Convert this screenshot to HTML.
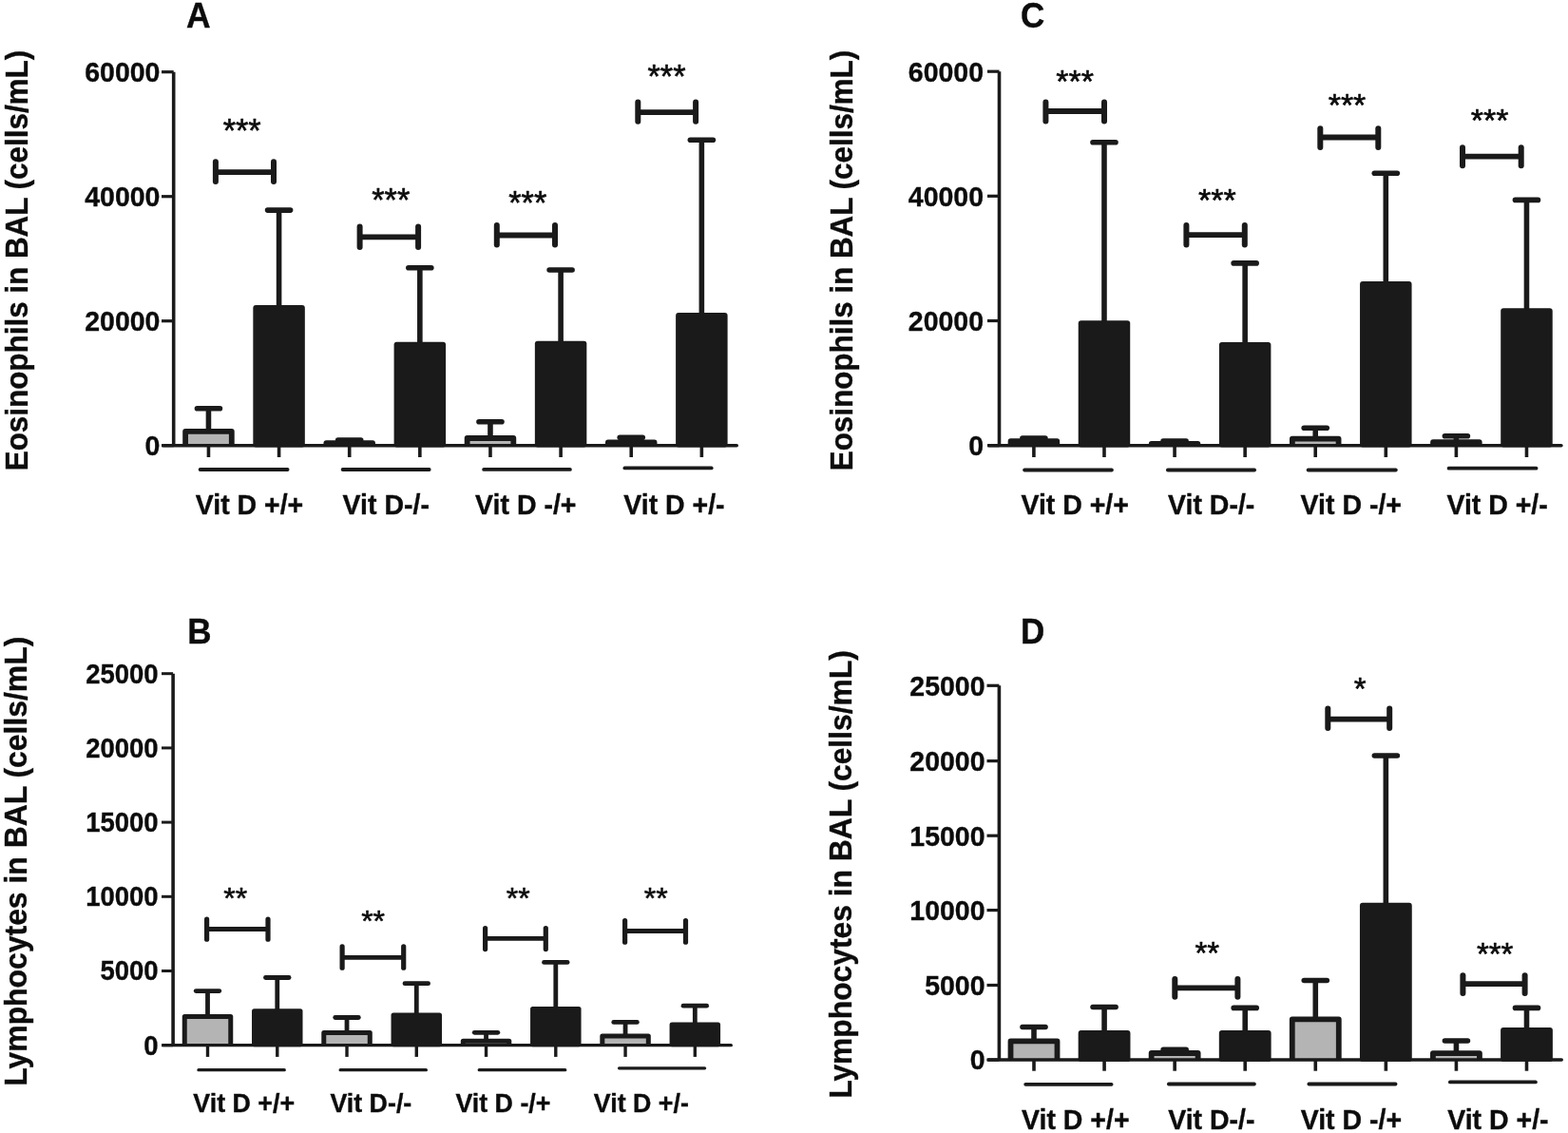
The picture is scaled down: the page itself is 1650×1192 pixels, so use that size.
<!DOCTYPE html>
<html><head><meta charset="utf-8"><title>Figure</title>
<style>html,body{margin:0;padding:0;background:#fff;} svg{display:block;filter:blur(0.35px);}</style></head>
<body>
<svg width="1650" height="1192" viewBox="0 0 1650 1192">
<rect width="1650" height="1192" fill="#fff"/>
<g stroke="#1a1a1a" fill="#1a1a1a" font-family='"Liberation Sans", Arial, sans-serif' font-weight="bold">
<line x1="182.70" y1="75.70" x2="182.70" y2="468.70" stroke-width="3.6" stroke-linecap="butt"/>
<line x1="170.00" y1="75.70" x2="182.70" y2="75.70" stroke-width="3.2" stroke-linecap="butt"/>
<text fill="#0c0c0c" stroke="#0c0c0c" stroke-width="0.35" transform="translate(168.44,86.02) scale(1,1.05)" font-size="28.5" text-anchor="end">60000</text>
<line x1="170.00" y1="206.70" x2="182.70" y2="206.70" stroke-width="3.2" stroke-linecap="butt"/>
<text fill="#0c0c0c" stroke="#0c0c0c" stroke-width="0.35" transform="translate(168.44,217.02) scale(1,1.05)" font-size="28.5" text-anchor="end">40000</text>
<line x1="170.00" y1="337.70" x2="182.70" y2="337.70" stroke-width="3.2" stroke-linecap="butt"/>
<text fill="#0c0c0c" stroke="#0c0c0c" stroke-width="0.35" transform="translate(168.44,348.02) scale(1,1.05)" font-size="28.5" text-anchor="end">20000</text>
<line x1="170.00" y1="468.70" x2="182.70" y2="468.70" stroke-width="3.2" stroke-linecap="butt"/>
<text fill="#0c0c0c" stroke="#0c0c0c" stroke-width="0.35" transform="translate(168.44,479.02) scale(1,1.05)" font-size="28.5" text-anchor="end">0</text>
<line x1="219.45" y1="468.70" x2="219.45" y2="481.00" stroke-width="3.6" stroke-linecap="butt"/>
<line x1="293.58" y1="468.70" x2="293.58" y2="481.00" stroke-width="3.6" stroke-linecap="butt"/>
<line x1="367.71" y1="468.70" x2="367.71" y2="481.00" stroke-width="3.6" stroke-linecap="butt"/>
<line x1="441.84" y1="468.70" x2="441.84" y2="481.00" stroke-width="3.6" stroke-linecap="butt"/>
<line x1="515.97" y1="468.70" x2="515.97" y2="481.00" stroke-width="3.6" stroke-linecap="butt"/>
<line x1="590.10" y1="468.70" x2="590.10" y2="481.00" stroke-width="3.6" stroke-linecap="butt"/>
<line x1="664.23" y1="468.70" x2="664.23" y2="481.00" stroke-width="3.6" stroke-linecap="butt"/>
<line x1="738.36" y1="468.70" x2="738.36" y2="481.00" stroke-width="3.6" stroke-linecap="butt"/>
<line x1="219.45" y1="453.80" x2="219.45" y2="429.70" stroke-width="5.6" stroke-linecap="butt"/>
<line x1="207.45" y1="429.70" x2="231.45" y2="429.70" stroke-width="5.6" stroke-linecap="round"/>
<rect x="195.10" y="453.80" width="48.70" height="14.90" fill="#b4b4b4" stroke="none"/>
<path d="M195.10,468.70V453.80H243.80V468.70" fill="none" stroke-width="5.8" stroke-linejoin="round"/>
<line x1="293.58" y1="323.90" x2="293.58" y2="221.10" stroke-width="5.6" stroke-linecap="butt"/>
<line x1="281.58" y1="221.10" x2="305.58" y2="221.10" stroke-width="5.6" stroke-linecap="round"/>
<rect x="266.33" y="321.00" width="54.50" height="149.50" rx="2.90" fill="#1a1a1a" stroke="none"/>
<line x1="367.71" y1="466.10" x2="367.71" y2="463.10" stroke-width="5.6" stroke-linecap="butt"/>
<line x1="355.71" y1="463.10" x2="379.71" y2="463.10" stroke-width="5.6" stroke-linecap="round"/>
<rect x="343.36" y="466.10" width="48.70" height="2.60" fill="#b4b4b4" stroke="none"/>
<path d="M343.36,468.70V466.10H392.06V468.70" fill="none" stroke-width="5.8" stroke-linejoin="round"/>
<line x1="441.84" y1="362.60" x2="441.84" y2="281.70" stroke-width="5.6" stroke-linecap="butt"/>
<line x1="429.84" y1="281.70" x2="453.84" y2="281.70" stroke-width="5.6" stroke-linecap="round"/>
<rect x="414.59" y="359.70" width="54.50" height="110.80" rx="2.90" fill="#1a1a1a" stroke="none"/>
<line x1="515.97" y1="461.00" x2="515.97" y2="443.80" stroke-width="5.6" stroke-linecap="butt"/>
<line x1="503.97" y1="443.80" x2="527.97" y2="443.80" stroke-width="5.6" stroke-linecap="round"/>
<rect x="491.62" y="461.00" width="48.70" height="7.70" fill="#b4b4b4" stroke="none"/>
<path d="M491.62,468.70V461.00H540.32V468.70" fill="none" stroke-width="5.8" stroke-linejoin="round"/>
<line x1="590.10" y1="361.60" x2="590.10" y2="284.00" stroke-width="5.6" stroke-linecap="butt"/>
<line x1="578.10" y1="284.00" x2="602.10" y2="284.00" stroke-width="5.6" stroke-linecap="round"/>
<rect x="562.85" y="358.70" width="54.50" height="111.80" rx="2.90" fill="#1a1a1a" stroke="none"/>
<line x1="664.23" y1="465.40" x2="664.23" y2="460.20" stroke-width="5.6" stroke-linecap="butt"/>
<line x1="652.23" y1="460.20" x2="676.23" y2="460.20" stroke-width="5.6" stroke-linecap="round"/>
<rect x="639.88" y="465.40" width="48.70" height="3.30" fill="#b4b4b4" stroke="none"/>
<path d="M639.88,468.70V465.40H688.58V468.70" fill="none" stroke-width="5.8" stroke-linejoin="round"/>
<line x1="738.36" y1="331.90" x2="738.36" y2="147.20" stroke-width="5.6" stroke-linecap="butt"/>
<line x1="726.36" y1="147.20" x2="750.36" y2="147.20" stroke-width="5.6" stroke-linecap="round"/>
<rect x="711.11" y="329.00" width="54.50" height="141.50" rx="2.90" fill="#1a1a1a" stroke="none"/>
<line x1="171.80" y1="468.70" x2="775.20" y2="468.70" stroke-width="3.6" stroke-linecap="round"/>
<line x1="226.90" y1="181.10" x2="288.00" y2="181.10" stroke-width="5.8" stroke-linecap="butt"/>
<line x1="226.90" y1="170.30" x2="226.90" y2="191.00" stroke-width="6.0" stroke-linecap="round"/>
<line x1="288.00" y1="170.30" x2="288.00" y2="191.00" stroke-width="6.0" stroke-linecap="round"/>
<line x1="378.60" y1="249.40" x2="440.10" y2="249.40" stroke-width="5.8" stroke-linecap="butt"/>
<line x1="378.60" y1="238.60" x2="378.60" y2="260.10" stroke-width="6.0" stroke-linecap="round"/>
<line x1="440.10" y1="238.60" x2="440.10" y2="260.10" stroke-width="6.0" stroke-linecap="round"/>
<line x1="522.80" y1="247.50" x2="584.00" y2="247.50" stroke-width="5.8" stroke-linecap="butt"/>
<line x1="522.80" y1="237.00" x2="522.80" y2="257.50" stroke-width="6.0" stroke-linecap="round"/>
<line x1="584.00" y1="237.00" x2="584.00" y2="257.50" stroke-width="6.0" stroke-linecap="round"/>
<line x1="671.30" y1="118.10" x2="732.10" y2="118.10" stroke-width="5.8" stroke-linecap="butt"/>
<line x1="671.30" y1="107.50" x2="671.30" y2="127.70" stroke-width="6.0" stroke-linecap="round"/>
<line x1="732.10" y1="107.50" x2="732.10" y2="127.70" stroke-width="6.0" stroke-linecap="round"/>
<text fill="#0c0c0c" stroke="#0c0c0c" transform="translate(254.65,148.96) scale(1,1.0)" font-size="34.3" text-anchor="middle" font-weight="normal" stroke-linejoin="round" stroke-width="0.6">***</text>
<text fill="#0c0c0c" stroke="#0c0c0c" transform="translate(411.25,221.61) scale(1,1.0)" font-size="34.3" text-anchor="middle" font-weight="normal" stroke-linejoin="round" stroke-width="0.6">***</text>
<text fill="#0c0c0c" stroke="#0c0c0c" transform="translate(555.25,225.01) scale(1,1.0)" font-size="34.3" text-anchor="middle" font-weight="normal" stroke-linejoin="round" stroke-width="0.6">***</text>
<text fill="#0c0c0c" stroke="#0c0c0c" transform="translate(701.45,92.01) scale(1,1.0)" font-size="34.3" text-anchor="middle" font-weight="normal" stroke-linejoin="round" stroke-width="0.6">***</text>
<line x1="210.60" y1="494.00" x2="302.60" y2="494.00" stroke-width="3.8" stroke-linecap="round"/>
<line x1="360.60" y1="494.00" x2="451.70" y2="494.00" stroke-width="3.8" stroke-linecap="round"/>
<line x1="509.10" y1="493.90" x2="599.90" y2="493.90" stroke-width="3.8" stroke-linecap="round"/>
<line x1="657.40" y1="492.40" x2="748.70" y2="492.40" stroke-width="3.8" stroke-linecap="round"/>
<text fill="#0c0c0c" stroke="#0c0c0c" stroke-width="0.35" transform="translate(205.72,541.20) scale(1,1.05)" font-size="28.5" text-anchor="start">Vit D +/+</text>
<text fill="#0c0c0c" stroke="#0c0c0c" stroke-width="0.35" transform="translate(360.61,541.20) scale(1,1.05)" font-size="28.5" text-anchor="start">Vit D-/-</text>
<text fill="#0c0c0c" stroke="#0c0c0c" stroke-width="0.35" transform="translate(500.11,541.20) scale(1,1.05)" font-size="28.5" text-anchor="start">Vit D -/+</text>
<text fill="#0c0c0c" stroke="#0c0c0c" stroke-width="0.35" transform="translate(656.22,541.20) scale(1,1.05)" font-size="28.5" text-anchor="start">Vit D +/-</text>
<text fill="#0c0c0c" stroke="#0c0c0c" stroke-width="0.35" transform="translate(28.90,495.30) rotate(-90) scale(1,1.05)" font-size="31.4">Eosinophils in BAL (cells/mL)</text>
<text fill="#0c0c0c" stroke="#0c0c0c" stroke-width="0.35" transform="translate(195.94,28.70) scale(1,1.05)" font-size="35.5" text-anchor="start">A</text>
<line x1="182.10" y1="708.70" x2="182.10" y2="1099.70" stroke-width="3.6" stroke-linecap="butt"/>
<line x1="170.00" y1="1099.70" x2="182.10" y2="1099.70" stroke-width="3.0" stroke-linecap="butt"/>
<text fill="#0c0c0c" stroke="#0c0c0c" stroke-width="0.35" transform="translate(166.60,1109.66) scale(1,1.05)" font-size="27.5" text-anchor="end">0</text>
<line x1="170.00" y1="1021.50" x2="182.10" y2="1021.50" stroke-width="3.0" stroke-linecap="butt"/>
<text fill="#0c0c0c" stroke="#0c0c0c" stroke-width="0.35" transform="translate(166.60,1031.46) scale(1,1.05)" font-size="27.5" text-anchor="end">5000</text>
<line x1="170.00" y1="943.30" x2="182.10" y2="943.30" stroke-width="3.0" stroke-linecap="butt"/>
<text fill="#0c0c0c" stroke="#0c0c0c" stroke-width="0.35" transform="translate(166.60,953.26) scale(1,1.05)" font-size="27.5" text-anchor="end">10000</text>
<line x1="170.00" y1="865.10" x2="182.10" y2="865.10" stroke-width="3.0" stroke-linecap="butt"/>
<text fill="#0c0c0c" stroke="#0c0c0c" stroke-width="0.35" transform="translate(166.60,875.06) scale(1,1.05)" font-size="27.5" text-anchor="end">15000</text>
<line x1="170.00" y1="786.90" x2="182.10" y2="786.90" stroke-width="3.0" stroke-linecap="butt"/>
<text fill="#0c0c0c" stroke="#0c0c0c" stroke-width="0.35" transform="translate(166.60,796.86) scale(1,1.05)" font-size="27.5" text-anchor="end">20000</text>
<line x1="170.00" y1="708.70" x2="182.10" y2="708.70" stroke-width="3.0" stroke-linecap="butt"/>
<text fill="#0c0c0c" stroke="#0c0c0c" stroke-width="0.35" transform="translate(166.60,718.66) scale(1,1.05)" font-size="27.5" text-anchor="end">25000</text>
<line x1="218.50" y1="1099.70" x2="218.50" y2="1111.90" stroke-width="3.4" stroke-linecap="butt"/>
<line x1="291.76" y1="1099.70" x2="291.76" y2="1111.90" stroke-width="3.4" stroke-linecap="butt"/>
<line x1="365.02" y1="1099.70" x2="365.02" y2="1111.90" stroke-width="3.4" stroke-linecap="butt"/>
<line x1="438.28" y1="1099.70" x2="438.28" y2="1111.90" stroke-width="3.4" stroke-linecap="butt"/>
<line x1="511.54" y1="1099.70" x2="511.54" y2="1111.90" stroke-width="3.4" stroke-linecap="butt"/>
<line x1="584.80" y1="1099.70" x2="584.80" y2="1111.90" stroke-width="3.4" stroke-linecap="butt"/>
<line x1="658.06" y1="1099.70" x2="658.06" y2="1111.90" stroke-width="3.4" stroke-linecap="butt"/>
<line x1="731.32" y1="1099.70" x2="731.32" y2="1111.90" stroke-width="3.4" stroke-linecap="butt"/>
<line x1="218.50" y1="1069.60" x2="218.50" y2="1042.60" stroke-width="4.8" stroke-linecap="butt"/>
<line x1="206.20" y1="1042.60" x2="230.80" y2="1042.60" stroke-width="4.8" stroke-linecap="round"/>
<rect x="194.25" y="1069.60" width="48.50" height="30.10" fill="#b4b4b4" stroke="none"/>
<path d="M194.25,1099.70V1069.60H242.75V1099.70" fill="none" stroke-width="5.0" stroke-linejoin="round"/>
<line x1="291.76" y1="1063.80" x2="291.76" y2="1028.50" stroke-width="4.8" stroke-linecap="butt"/>
<line x1="279.46" y1="1028.50" x2="304.06" y2="1028.50" stroke-width="4.8" stroke-linecap="round"/>
<rect x="265.01" y="1061.30" width="53.50" height="40.05" rx="2.50" fill="#1a1a1a" stroke="none"/>
<line x1="365.02" y1="1086.60" x2="365.02" y2="1070.50" stroke-width="4.8" stroke-linecap="butt"/>
<line x1="352.72" y1="1070.50" x2="377.32" y2="1070.50" stroke-width="4.8" stroke-linecap="round"/>
<rect x="340.77" y="1086.60" width="48.50" height="13.10" fill="#b4b4b4" stroke="none"/>
<path d="M340.77,1099.70V1086.60H389.27V1099.70" fill="none" stroke-width="5.0" stroke-linejoin="round"/>
<line x1="438.28" y1="1068.00" x2="438.28" y2="1034.70" stroke-width="4.8" stroke-linecap="butt"/>
<line x1="425.98" y1="1034.70" x2="450.58" y2="1034.70" stroke-width="4.8" stroke-linecap="round"/>
<rect x="411.53" y="1065.50" width="53.50" height="35.85" rx="2.50" fill="#1a1a1a" stroke="none"/>
<line x1="511.54" y1="1095.30" x2="511.54" y2="1086.30" stroke-width="4.8" stroke-linecap="butt"/>
<line x1="499.24" y1="1086.30" x2="523.84" y2="1086.30" stroke-width="4.8" stroke-linecap="round"/>
<rect x="487.29" y="1095.30" width="48.50" height="4.40" fill="#b4b4b4" stroke="none"/>
<path d="M487.29,1099.70V1095.30H535.79V1099.70" fill="none" stroke-width="5.0" stroke-linejoin="round"/>
<line x1="584.80" y1="1061.50" x2="584.80" y2="1012.40" stroke-width="4.8" stroke-linecap="butt"/>
<line x1="572.50" y1="1012.40" x2="597.10" y2="1012.40" stroke-width="4.8" stroke-linecap="round"/>
<rect x="558.05" y="1059.00" width="53.50" height="42.35" rx="2.50" fill="#1a1a1a" stroke="none"/>
<line x1="658.06" y1="1089.90" x2="658.06" y2="1075.40" stroke-width="4.8" stroke-linecap="butt"/>
<line x1="645.76" y1="1075.40" x2="670.36" y2="1075.40" stroke-width="4.8" stroke-linecap="round"/>
<rect x="633.81" y="1089.90" width="48.50" height="9.80" fill="#b4b4b4" stroke="none"/>
<path d="M633.81,1099.70V1089.90H682.31V1099.70" fill="none" stroke-width="5.0" stroke-linejoin="round"/>
<line x1="731.32" y1="1077.90" x2="731.32" y2="1058.20" stroke-width="4.8" stroke-linecap="butt"/>
<line x1="719.02" y1="1058.20" x2="743.62" y2="1058.20" stroke-width="4.8" stroke-linecap="round"/>
<rect x="704.57" y="1075.40" width="53.50" height="25.95" rx="2.50" fill="#1a1a1a" stroke="none"/>
<line x1="171.65" y1="1099.70" x2="769.35" y2="1099.70" stroke-width="3.3" stroke-linecap="round"/>
<line x1="217.60" y1="977.50" x2="282.00" y2="977.50" stroke-width="4.8" stroke-linecap="butt"/>
<line x1="217.60" y1="967.10" x2="217.60" y2="988.20" stroke-width="5.2" stroke-linecap="round"/>
<line x1="282.00" y1="967.10" x2="282.00" y2="988.20" stroke-width="5.2" stroke-linecap="round"/>
<line x1="360.10" y1="1007.40" x2="424.70" y2="1007.40" stroke-width="4.8" stroke-linecap="butt"/>
<line x1="360.10" y1="995.90" x2="360.10" y2="1018.20" stroke-width="5.2" stroke-linecap="round"/>
<line x1="424.70" y1="995.90" x2="424.70" y2="1018.20" stroke-width="5.2" stroke-linecap="round"/>
<line x1="510.60" y1="987.40" x2="574.30" y2="987.40" stroke-width="4.8" stroke-linecap="butt"/>
<line x1="510.60" y1="976.60" x2="510.60" y2="998.60" stroke-width="5.2" stroke-linecap="round"/>
<line x1="574.30" y1="976.60" x2="574.30" y2="998.60" stroke-width="5.2" stroke-linecap="round"/>
<line x1="657.60" y1="979.50" x2="721.50" y2="979.50" stroke-width="4.8" stroke-linecap="butt"/>
<line x1="657.60" y1="968.50" x2="657.60" y2="991.20" stroke-width="5.2" stroke-linecap="round"/>
<line x1="721.50" y1="968.50" x2="721.50" y2="991.20" stroke-width="5.2" stroke-linecap="round"/>
<text fill="#0c0c0c" stroke="#0c0c0c" transform="translate(247.70,956.18) scale(1,1.0)" font-size="32.0" text-anchor="middle" font-weight="normal" stroke-linejoin="round" stroke-width="0.6">**</text>
<text fill="#0c0c0c" stroke="#0c0c0c" transform="translate(392.60,980.38) scale(1,1.0)" font-size="32.0" text-anchor="middle" font-weight="normal" stroke-linejoin="round" stroke-width="0.6">**</text>
<text fill="#0c0c0c" stroke="#0c0c0c" transform="translate(545.30,955.88) scale(1,1.0)" font-size="32.0" text-anchor="middle" font-weight="normal" stroke-linejoin="round" stroke-width="0.6">**</text>
<text fill="#0c0c0c" stroke="#0c0c0c" transform="translate(690.30,955.88) scale(1,1.0)" font-size="32.0" text-anchor="middle" font-weight="normal" stroke-linejoin="round" stroke-width="0.6">**</text>
<line x1="208.90" y1="1125.70" x2="299.30" y2="1125.70" stroke-width="3.2" stroke-linecap="round"/>
<line x1="358.10" y1="1125.70" x2="448.40" y2="1125.70" stroke-width="3.2" stroke-linecap="round"/>
<line x1="504.20" y1="1125.70" x2="594.80" y2="1125.70" stroke-width="3.2" stroke-linecap="round"/>
<line x1="651.50" y1="1123.80" x2="741.60" y2="1123.80" stroke-width="3.2" stroke-linecap="round"/>
<text fill="#0c0c0c" stroke="#0c0c0c" stroke-width="0.35" transform="translate(203.33,1170.20) scale(1,1.05)" font-size="26.8" text-anchor="start">Vit D +/+</text>
<text fill="#0c0c0c" stroke="#0c0c0c" stroke-width="0.35" transform="translate(347.43,1170.20) scale(1,1.05)" font-size="26.8" text-anchor="start">Vit D-/-</text>
<text fill="#0c0c0c" stroke="#0c0c0c" stroke-width="0.35" transform="translate(479.43,1170.20) scale(1,1.05)" font-size="26.8" text-anchor="start">Vit D -/+</text>
<text fill="#0c0c0c" stroke="#0c0c0c" stroke-width="0.35" transform="translate(624.83,1170.20) scale(1,1.05)" font-size="26.8" text-anchor="start">Vit D +/-</text>
<text fill="#0c0c0c" stroke="#0c0c0c" stroke-width="0.35" transform="translate(28.00,1142.73) rotate(-90) scale(1,1.05)" font-size="31.9">Lymphocytes in BAL (cells/mL)</text>
<text fill="#0c0c0c" stroke="#0c0c0c" stroke-width="0.35" transform="translate(197.15,676.70) scale(1,1.05)" font-size="35" text-anchor="start">B</text>
<line x1="1051.50" y1="75.20" x2="1051.50" y2="468.70" stroke-width="3.6" stroke-linecap="butt"/>
<line x1="1039.00" y1="75.20" x2="1051.50" y2="75.20" stroke-width="3.2" stroke-linecap="butt"/>
<text fill="#0c0c0c" stroke="#0c0c0c" stroke-width="0.35" transform="translate(1035.04,85.52) scale(1,1.05)" font-size="28.5" text-anchor="end">60000</text>
<line x1="1039.00" y1="206.30" x2="1051.50" y2="206.30" stroke-width="3.2" stroke-linecap="butt"/>
<text fill="#0c0c0c" stroke="#0c0c0c" stroke-width="0.35" transform="translate(1035.04,216.62) scale(1,1.05)" font-size="28.5" text-anchor="end">40000</text>
<line x1="1039.00" y1="337.50" x2="1051.50" y2="337.50" stroke-width="3.2" stroke-linecap="butt"/>
<text fill="#0c0c0c" stroke="#0c0c0c" stroke-width="0.35" transform="translate(1035.04,347.82) scale(1,1.05)" font-size="28.5" text-anchor="end">20000</text>
<line x1="1039.00" y1="468.70" x2="1051.50" y2="468.70" stroke-width="3.2" stroke-linecap="butt"/>
<text fill="#0c0c0c" stroke="#0c0c0c" stroke-width="0.35" transform="translate(1035.04,479.02) scale(1,1.05)" font-size="28.5" text-anchor="end">0</text>
<line x1="1087.90" y1="468.70" x2="1087.90" y2="481.00" stroke-width="3.6" stroke-linecap="butt"/>
<line x1="1161.98" y1="468.70" x2="1161.98" y2="481.00" stroke-width="3.6" stroke-linecap="butt"/>
<line x1="1236.06" y1="468.70" x2="1236.06" y2="481.00" stroke-width="3.6" stroke-linecap="butt"/>
<line x1="1310.14" y1="468.70" x2="1310.14" y2="481.00" stroke-width="3.6" stroke-linecap="butt"/>
<line x1="1384.22" y1="468.70" x2="1384.22" y2="481.00" stroke-width="3.6" stroke-linecap="butt"/>
<line x1="1458.30" y1="468.70" x2="1458.30" y2="481.00" stroke-width="3.6" stroke-linecap="butt"/>
<line x1="1532.38" y1="468.70" x2="1532.38" y2="481.00" stroke-width="3.6" stroke-linecap="butt"/>
<line x1="1606.46" y1="468.70" x2="1606.46" y2="481.00" stroke-width="3.6" stroke-linecap="butt"/>
<line x1="1087.90" y1="464.20" x2="1087.90" y2="461.00" stroke-width="5.6" stroke-linecap="butt"/>
<line x1="1075.90" y1="461.00" x2="1099.90" y2="461.00" stroke-width="5.6" stroke-linecap="round"/>
<rect x="1063.55" y="464.20" width="48.70" height="4.50" fill="#b4b4b4" stroke="none"/>
<path d="M1063.55,468.70V464.20H1112.25V468.70" fill="none" stroke-width="5.8" stroke-linejoin="round"/>
<line x1="1161.98" y1="340.20" x2="1161.98" y2="149.80" stroke-width="5.6" stroke-linecap="butt"/>
<line x1="1149.98" y1="149.80" x2="1173.98" y2="149.80" stroke-width="5.6" stroke-linecap="round"/>
<rect x="1134.73" y="337.30" width="54.50" height="133.20" rx="2.90" fill="#1a1a1a" stroke="none"/>
<line x1="1236.06" y1="467.00" x2="1236.06" y2="464.10" stroke-width="5.6" stroke-linecap="butt"/>
<line x1="1224.06" y1="464.10" x2="1248.06" y2="464.10" stroke-width="5.6" stroke-linecap="round"/>
<rect x="1211.71" y="467.00" width="48.70" height="1.70" fill="#b4b4b4" stroke="none"/>
<path d="M1211.71,468.70V467.00H1260.41V468.70" fill="none" stroke-width="5.8" stroke-linejoin="round"/>
<line x1="1310.14" y1="362.80" x2="1310.14" y2="276.90" stroke-width="5.6" stroke-linecap="butt"/>
<line x1="1298.14" y1="276.90" x2="1322.14" y2="276.90" stroke-width="5.6" stroke-linecap="round"/>
<rect x="1282.89" y="359.90" width="54.50" height="110.60" rx="2.90" fill="#1a1a1a" stroke="none"/>
<line x1="1384.22" y1="461.60" x2="1384.22" y2="450.30" stroke-width="5.6" stroke-linecap="butt"/>
<line x1="1372.22" y1="450.30" x2="1396.22" y2="450.30" stroke-width="5.6" stroke-linecap="round"/>
<rect x="1359.87" y="461.60" width="48.70" height="7.10" fill="#b4b4b4" stroke="none"/>
<path d="M1359.87,468.70V461.60H1408.57V468.70" fill="none" stroke-width="5.8" stroke-linejoin="round"/>
<line x1="1458.30" y1="298.90" x2="1458.30" y2="182.20" stroke-width="5.6" stroke-linecap="butt"/>
<line x1="1446.30" y1="182.20" x2="1470.30" y2="182.20" stroke-width="5.6" stroke-linecap="round"/>
<rect x="1431.05" y="296.00" width="54.50" height="174.50" rx="2.90" fill="#1a1a1a" stroke="none"/>
<line x1="1532.38" y1="465.20" x2="1532.38" y2="458.80" stroke-width="5.6" stroke-linecap="butt"/>
<line x1="1520.38" y1="458.80" x2="1544.38" y2="458.80" stroke-width="5.6" stroke-linecap="round"/>
<rect x="1508.03" y="465.20" width="48.70" height="3.50" fill="#b4b4b4" stroke="none"/>
<path d="M1508.03,468.70V465.20H1556.73V468.70" fill="none" stroke-width="5.8" stroke-linejoin="round"/>
<line x1="1606.46" y1="327.10" x2="1606.46" y2="210.40" stroke-width="5.6" stroke-linecap="butt"/>
<line x1="1594.46" y1="210.40" x2="1618.46" y2="210.40" stroke-width="5.6" stroke-linecap="round"/>
<rect x="1579.21" y="324.20" width="54.50" height="146.30" rx="2.90" fill="#1a1a1a" stroke="none"/>
<line x1="1040.80" y1="468.70" x2="1642.90" y2="468.70" stroke-width="3.6" stroke-linecap="round"/>
<line x1="1100.40" y1="117.00" x2="1162.00" y2="117.00" stroke-width="5.8" stroke-linecap="butt"/>
<line x1="1100.40" y1="107.50" x2="1100.40" y2="127.40" stroke-width="6.0" stroke-linecap="round"/>
<line x1="1162.00" y1="107.50" x2="1162.00" y2="127.40" stroke-width="6.0" stroke-linecap="round"/>
<line x1="1248.40" y1="247.20" x2="1309.80" y2="247.20" stroke-width="5.8" stroke-linecap="butt"/>
<line x1="1248.40" y1="237.10" x2="1248.40" y2="257.50" stroke-width="6.0" stroke-linecap="round"/>
<line x1="1309.80" y1="237.10" x2="1309.80" y2="257.50" stroke-width="6.0" stroke-linecap="round"/>
<line x1="1389.30" y1="144.50" x2="1450.30" y2="144.50" stroke-width="5.8" stroke-linecap="butt"/>
<line x1="1389.30" y1="135.20" x2="1389.30" y2="154.90" stroke-width="6.0" stroke-linecap="round"/>
<line x1="1450.30" y1="135.20" x2="1450.30" y2="154.90" stroke-width="6.0" stroke-linecap="round"/>
<line x1="1539.00" y1="164.60" x2="1600.70" y2="164.60" stroke-width="5.8" stroke-linecap="butt"/>
<line x1="1539.00" y1="155.30" x2="1539.00" y2="174.30" stroke-width="6.0" stroke-linecap="round"/>
<line x1="1600.70" y1="155.30" x2="1600.70" y2="174.30" stroke-width="6.0" stroke-linecap="round"/>
<text fill="#0c0c0c" stroke="#0c0c0c" transform="translate(1131.20,97.06) scale(1,1.0)" font-size="34.0" text-anchor="middle" font-weight="normal" stroke-linejoin="round" stroke-width="0.6">***</text>
<text fill="#0c0c0c" stroke="#0c0c0c" transform="translate(1280.90,222.31) scale(1,1.0)" font-size="34.0" text-anchor="middle" font-weight="normal" stroke-linejoin="round" stroke-width="0.6">***</text>
<text fill="#0c0c0c" stroke="#0c0c0c" transform="translate(1417.50,122.41) scale(1,1.0)" font-size="34.0" text-anchor="middle" font-weight="normal" stroke-linejoin="round" stroke-width="0.6">***</text>
<text fill="#0c0c0c" stroke="#0c0c0c" transform="translate(1567.55,138.26) scale(1,1.0)" font-size="34.0" text-anchor="middle" font-weight="normal" stroke-linejoin="round" stroke-width="0.6">***</text>
<line x1="1078.10" y1="494.50" x2="1169.90" y2="494.50" stroke-width="3.8" stroke-linecap="round"/>
<line x1="1228.90" y1="494.50" x2="1320.10" y2="494.50" stroke-width="3.8" stroke-linecap="round"/>
<line x1="1376.60" y1="494.50" x2="1468.80" y2="494.50" stroke-width="3.8" stroke-linecap="round"/>
<line x1="1524.60" y1="492.70" x2="1616.50" y2="492.70" stroke-width="3.8" stroke-linecap="round"/>
<text fill="#0c0c0c" stroke="#0c0c0c" stroke-width="0.35" transform="translate(1074.41,541.20) scale(1,1.05)" font-size="28.5" text-anchor="start">Vit D +/+</text>
<text fill="#0c0c0c" stroke="#0c0c0c" stroke-width="0.35" transform="translate(1229.01,541.20) scale(1,1.05)" font-size="28.5" text-anchor="start">Vit D-/-</text>
<text fill="#0c0c0c" stroke="#0c0c0c" stroke-width="0.35" transform="translate(1368.62,541.20) scale(1,1.05)" font-size="28.5" text-anchor="start">Vit D -/+</text>
<text fill="#0c0c0c" stroke="#0c0c0c" stroke-width="0.35" transform="translate(1522.41,541.20) scale(1,1.05)" font-size="28.5" text-anchor="start">Vit D +/-</text>
<text fill="#0c0c0c" stroke="#0c0c0c" stroke-width="0.35" transform="translate(897.00,495.30) rotate(-90) scale(1,1.05)" font-size="31.4">Eosinophils in BAL (cells/mL)</text>
<text fill="#0c0c0c" stroke="#0c0c0c" stroke-width="0.35" transform="translate(1074.00,28.50) scale(1,1.05)" font-size="35" text-anchor="start">C</text>
<line x1="1051.40" y1="721.30" x2="1051.40" y2="1115.00" stroke-width="3.6" stroke-linecap="butt"/>
<line x1="1038.50" y1="1115.00" x2="1051.40" y2="1115.00" stroke-width="3.2" stroke-linecap="butt"/>
<text fill="#0c0c0c" stroke="#0c0c0c" stroke-width="0.35" transform="translate(1036.54,1125.32) scale(1,1.05)" font-size="28.5" text-anchor="end">0</text>
<line x1="1038.50" y1="1036.50" x2="1051.40" y2="1036.50" stroke-width="3.2" stroke-linecap="butt"/>
<text fill="#0c0c0c" stroke="#0c0c0c" stroke-width="0.35" transform="translate(1036.54,1046.82) scale(1,1.05)" font-size="28.5" text-anchor="end">5000</text>
<line x1="1038.50" y1="957.60" x2="1051.40" y2="957.60" stroke-width="3.2" stroke-linecap="butt"/>
<text fill="#0c0c0c" stroke="#0c0c0c" stroke-width="0.35" transform="translate(1036.54,967.92) scale(1,1.05)" font-size="28.5" text-anchor="end">10000</text>
<line x1="1038.50" y1="879.20" x2="1051.40" y2="879.20" stroke-width="3.2" stroke-linecap="butt"/>
<text fill="#0c0c0c" stroke="#0c0c0c" stroke-width="0.35" transform="translate(1036.54,889.52) scale(1,1.05)" font-size="28.5" text-anchor="end">15000</text>
<line x1="1038.50" y1="800.60" x2="1051.40" y2="800.60" stroke-width="3.2" stroke-linecap="butt"/>
<text fill="#0c0c0c" stroke="#0c0c0c" stroke-width="0.35" transform="translate(1036.54,810.92) scale(1,1.05)" font-size="28.5" text-anchor="end">20000</text>
<line x1="1038.50" y1="721.30" x2="1051.40" y2="721.30" stroke-width="3.2" stroke-linecap="butt"/>
<text fill="#0c0c0c" stroke="#0c0c0c" stroke-width="0.35" transform="translate(1036.54,731.62) scale(1,1.05)" font-size="28.5" text-anchor="end">25000</text>
<line x1="1088.00" y1="1115.00" x2="1088.00" y2="1126.70" stroke-width="3.6" stroke-linecap="butt"/>
<line x1="1162.07" y1="1115.00" x2="1162.07" y2="1126.70" stroke-width="3.6" stroke-linecap="butt"/>
<line x1="1236.14" y1="1115.00" x2="1236.14" y2="1126.70" stroke-width="3.6" stroke-linecap="butt"/>
<line x1="1310.21" y1="1115.00" x2="1310.21" y2="1126.70" stroke-width="3.6" stroke-linecap="butt"/>
<line x1="1384.28" y1="1115.00" x2="1384.28" y2="1126.70" stroke-width="3.6" stroke-linecap="butt"/>
<line x1="1458.35" y1="1115.00" x2="1458.35" y2="1126.70" stroke-width="3.6" stroke-linecap="butt"/>
<line x1="1532.42" y1="1115.00" x2="1532.42" y2="1126.70" stroke-width="3.6" stroke-linecap="butt"/>
<line x1="1606.49" y1="1115.00" x2="1606.49" y2="1126.70" stroke-width="3.6" stroke-linecap="butt"/>
<line x1="1088.00" y1="1095.40" x2="1088.00" y2="1080.50" stroke-width="5.6" stroke-linecap="butt"/>
<line x1="1076.00" y1="1080.50" x2="1100.00" y2="1080.50" stroke-width="5.6" stroke-linecap="round"/>
<rect x="1063.50" y="1095.40" width="49.00" height="19.60" fill="#b4b4b4" stroke="none"/>
<path d="M1063.50,1115.00V1095.40H1112.50V1115.00" fill="none" stroke-width="5.8" stroke-linejoin="round"/>
<line x1="1162.07" y1="1086.90" x2="1162.07" y2="1059.50" stroke-width="5.6" stroke-linecap="butt"/>
<line x1="1150.07" y1="1059.50" x2="1174.07" y2="1059.50" stroke-width="5.6" stroke-linecap="round"/>
<rect x="1134.67" y="1084.00" width="54.80" height="32.80" rx="2.90" fill="#1a1a1a" stroke="none"/>
<line x1="1236.14" y1="1108.00" x2="1236.14" y2="1104.40" stroke-width="5.6" stroke-linecap="butt"/>
<line x1="1224.14" y1="1104.40" x2="1248.14" y2="1104.40" stroke-width="5.6" stroke-linecap="round"/>
<rect x="1211.64" y="1108.00" width="49.00" height="7.00" fill="#b4b4b4" stroke="none"/>
<path d="M1211.64,1115.00V1108.00H1260.64V1115.00" fill="none" stroke-width="5.8" stroke-linejoin="round"/>
<line x1="1310.21" y1="1086.90" x2="1310.21" y2="1060.40" stroke-width="5.6" stroke-linecap="butt"/>
<line x1="1298.21" y1="1060.40" x2="1322.21" y2="1060.40" stroke-width="5.6" stroke-linecap="round"/>
<rect x="1282.81" y="1084.00" width="54.80" height="32.80" rx="2.90" fill="#1a1a1a" stroke="none"/>
<line x1="1384.28" y1="1072.40" x2="1384.28" y2="1031.50" stroke-width="5.6" stroke-linecap="butt"/>
<line x1="1372.28" y1="1031.50" x2="1396.28" y2="1031.50" stroke-width="5.6" stroke-linecap="round"/>
<rect x="1359.78" y="1072.40" width="49.00" height="42.60" fill="#b4b4b4" stroke="none"/>
<path d="M1359.78,1115.00V1072.40H1408.78V1115.00" fill="none" stroke-width="5.8" stroke-linejoin="round"/>
<line x1="1458.35" y1="952.70" x2="1458.35" y2="795.00" stroke-width="5.6" stroke-linecap="butt"/>
<line x1="1446.35" y1="795.00" x2="1470.35" y2="795.00" stroke-width="5.6" stroke-linecap="round"/>
<rect x="1430.95" y="949.80" width="54.80" height="167.00" rx="2.90" fill="#1a1a1a" stroke="none"/>
<line x1="1532.42" y1="1108.10" x2="1532.42" y2="1095.00" stroke-width="5.6" stroke-linecap="butt"/>
<line x1="1520.42" y1="1095.00" x2="1544.42" y2="1095.00" stroke-width="5.6" stroke-linecap="round"/>
<rect x="1507.92" y="1108.10" width="49.00" height="6.90" fill="#b4b4b4" stroke="none"/>
<path d="M1507.92,1115.00V1108.10H1556.92V1115.00" fill="none" stroke-width="5.8" stroke-linejoin="round"/>
<line x1="1606.49" y1="1083.90" x2="1606.49" y2="1060.40" stroke-width="5.6" stroke-linecap="butt"/>
<line x1="1594.49" y1="1060.40" x2="1618.49" y2="1060.40" stroke-width="5.6" stroke-linecap="round"/>
<rect x="1579.09" y="1081.00" width="54.80" height="35.80" rx="2.90" fill="#1a1a1a" stroke="none"/>
<line x1="1040.30" y1="1115.00" x2="1643.20" y2="1115.00" stroke-width="3.6" stroke-linecap="round"/>
<line x1="1236.30" y1="1039.40" x2="1302.40" y2="1039.40" stroke-width="5.8" stroke-linecap="butt"/>
<line x1="1236.30" y1="1030.00" x2="1236.30" y2="1048.70" stroke-width="6.0" stroke-linecap="round"/>
<line x1="1302.40" y1="1030.00" x2="1302.40" y2="1048.70" stroke-width="6.0" stroke-linecap="round"/>
<line x1="1397.30" y1="756.60" x2="1462.20" y2="756.60" stroke-width="5.8" stroke-linecap="butt"/>
<line x1="1397.30" y1="745.50" x2="1397.30" y2="766.00" stroke-width="6.0" stroke-linecap="round"/>
<line x1="1462.20" y1="745.50" x2="1462.20" y2="766.00" stroke-width="6.0" stroke-linecap="round"/>
<line x1="1539.40" y1="1035.20" x2="1604.60" y2="1035.20" stroke-width="5.8" stroke-linecap="butt"/>
<line x1="1539.40" y1="1026.30" x2="1539.40" y2="1045.00" stroke-width="6.0" stroke-linecap="round"/>
<line x1="1604.60" y1="1026.30" x2="1604.60" y2="1045.00" stroke-width="6.0" stroke-linecap="round"/>
<text fill="#0c0c0c" stroke="#0c0c0c" transform="translate(1270.35,1014.35) scale(1,1.0)" font-size="33.0" text-anchor="middle" font-weight="normal" stroke-linejoin="round" stroke-width="0.6">**</text>
<text fill="#0c0c0c" stroke="#0c0c0c" transform="translate(1431.20,736.00) scale(1,1.0)" font-size="33.0" text-anchor="middle" font-weight="normal" stroke-linejoin="round" stroke-width="0.6">*</text>
<text fill="#0c0c0c" stroke="#0c0c0c" transform="translate(1573.20,1015.29) scale(1,1.0)" font-size="33.0" text-anchor="middle" font-weight="normal" stroke-linejoin="round" stroke-width="0.6">***</text>
<line x1="1079.20" y1="1140.80" x2="1169.60" y2="1140.80" stroke-width="3.8" stroke-linecap="round"/>
<line x1="1229.90" y1="1140.50" x2="1319.90" y2="1140.50" stroke-width="3.8" stroke-linecap="round"/>
<line x1="1377.40" y1="1140.50" x2="1468.50" y2="1140.50" stroke-width="3.8" stroke-linecap="round"/>
<line x1="1525.90" y1="1138.40" x2="1615.90" y2="1138.40" stroke-width="3.8" stroke-linecap="round"/>
<text fill="#0c0c0c" stroke="#0c0c0c" stroke-width="0.35" transform="translate(1075.01,1188.00) scale(1,1.05)" font-size="28.5" text-anchor="start">Vit D +/+</text>
<text fill="#0c0c0c" stroke="#0c0c0c" stroke-width="0.35" transform="translate(1229.21,1188.00) scale(1,1.05)" font-size="28.5" text-anchor="start">Vit D-/-</text>
<text fill="#0c0c0c" stroke="#0c0c0c" stroke-width="0.35" transform="translate(1368.71,1188.00) scale(1,1.05)" font-size="28.5" text-anchor="start">Vit D -/+</text>
<text fill="#0c0c0c" stroke="#0c0c0c" stroke-width="0.35" transform="translate(1523.21,1188.00) scale(1,1.05)" font-size="28.5" text-anchor="start">Vit D +/-</text>
<text fill="#0c0c0c" stroke="#0c0c0c" stroke-width="0.35" transform="translate(896.40,1155.83) rotate(-90) scale(1,1.05)" font-size="31.8">Lymphocytes in BAL (cells/mL)</text>
<text fill="#0c0c0c" stroke="#0c0c0c" stroke-width="0.35" transform="translate(1073.95,676.70) scale(1,1.05)" font-size="35" text-anchor="start">D</text>
</g>
</svg>
</body></html>
